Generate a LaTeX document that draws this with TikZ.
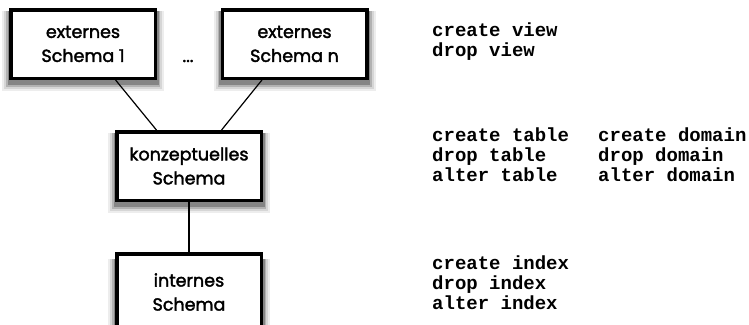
\documentclass[tikz,border=0pt]{standalone}
\usepackage{fontspec}
\setmainfont{Poppins}
\newfontfamily\boxfont{Poppins}[FakeBold=2]
\newfontfamily\codefont{Liberation Mono}
\usetikzlibrary{calc}
\begin{document}
\begin{tikzpicture}[x=1pt,y=-1pt,
  schemabox/.style={draw=black, line width=3.5pt, fill=white,
    minimum width=144.5pt, minimum height=68.5pt, inner sep=0pt, align=center,
    font=\boxfont\fontsize{17.5}{24}\selectfont},
  shadowbox/.style={draw=none, inner sep=0pt, fill=black!#1},
  link/.style={draw=black, line width=1.2pt},
  code/.style={anchor=base west, inner sep=0pt, font=\codefont\bfseries\fontsize{19}{20}\selectfont}]
\useasboundingbox (0,0) rectangle (749,324);
\clip (0,0) rectangle (749,324);
\foreach \cx/\cy [count=\n] in {83/44, 294.5/44, 189/166, 189/292} {
  \node[shadowbox=7, minimum width=162pt, minimum height=80pt] (sa\n) at (\cx,\cy+7) {};
  \node[shadowbox=16, minimum width=158pt, minimum height=78pt] (sb\n) at (\cx,\cy+5.5) {};
  \node[shadowbox=30, minimum width=154pt, minimum height=76pt] (sc\n) at (\cx,\cy+4.5) {};
  \node[shadowbox=48, minimum width=151pt, minimum height=74pt] (sd\n) at (\cx,\cy+3.5) {};
}
\node[schemabox] (e1) at (83,44) {externes\\Schema 1};
\node[schemabox] (en) at (294.5,44) {externes\\Schema n};
\node[anchor=base, inner sep=0pt, font=\boxfont\fontsize{17.5}{24}\selectfont] (dots) at (188,62) {...};
\node[schemabox] (k) at (189,166) {konzeptuelles\\Schema};
\node[schemabox, minimum height=76pt] (i) at (189,292) {internes\\Schema};
\draw[link] ($(e1.south west)!0.72!(e1.south east)$) -- ($(k.north west)!0.28!(k.north east)$);
\draw[link] ($(en.south west)!0.28!(en.south east)$) -- ($(k.north west)!0.72!(k.north east)$);
\draw[link] (k.south) -- (i.north);
\node[code] (v1) at (432,36) {create view};
\node[code] (v2) at (432,56) {drop view};
\node[code] (t1) at (432,141) {create table};
\node[code] (t2) at (432,161) {drop table};
\node[code] (t3) at (432,181) {alter table};
\node[code] (d1) at (598,141) {create domain};
\node[code] (d2) at (598,161) {drop domain};
\node[code] (d3) at (598,181) {alter domain};
\node[code] (x1) at (432,269) {create index};
\node[code] (x2) at (432,289) {drop index};
\node[code] (x3) at (432,309) {alter index};
\end{tikzpicture}
\end{document}
